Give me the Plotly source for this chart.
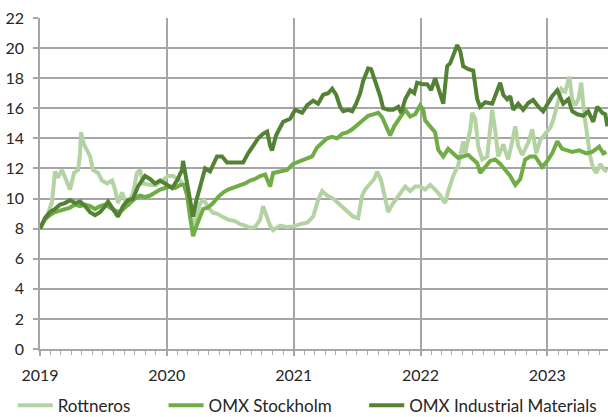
import pandas as pd
import plotly.graph_objects as go

# Time in decimal years
rott_t = [2019.000, 2019.032, 2019.063, 2019.095, 2019.118, 2019.142, 2019.174, 2019.205, 2019.237, 2019.268,
          2019.300, 2019.316, 2019.323, 2019.347, 2019.395, 2019.418, 2019.458, 2019.489, 2019.529, 2019.568,
          2019.592, 2019.615, 2019.647, 2019.671, 2019.694, 2019.734, 2019.765, 2019.789, 2019.813, 2019.868,
          2019.915, 2019.963, 2020.010, 2020.049, 2020.105, 2020.144, 2020.176, 2020.207, 2020.239, 2020.262,
          2020.294, 2020.326, 2020.365, 2020.396, 2020.436, 2020.483, 2020.538, 2020.578, 2020.617, 2020.657,
          2020.696, 2020.736, 2020.759, 2020.783, 2020.815, 2020.838, 2020.893, 2020.949, 2020.996, 2021.051,
          2021.107, 2021.154, 2021.193, 2021.225, 2021.264, 2021.312, 2021.367, 2021.422, 2021.469, 2021.509,
          2021.540, 2021.564, 2021.604, 2021.635, 2021.659, 2021.690, 2021.722, 2021.746, 2021.777, 2021.825,
          2021.880, 2021.919, 2021.959, 2021.998, 2022.037, 2022.077, 2022.116, 2022.156, 2022.195, 2022.219,
          2022.258, 2022.298, 2022.314, 2022.337, 2022.353, 2022.377, 2022.393, 2022.408, 2022.432, 2022.456,
          2022.487, 2022.527, 2022.566, 2022.590, 2022.613, 2022.653, 2022.692, 2022.724, 2022.748, 2022.771,
          2022.803, 2022.850, 2022.882, 2022.913, 2022.945, 2022.984, 2023.024, 2023.047, 2023.079, 2023.111,
          2023.142, 2023.174, 2023.197, 2023.221, 2023.245, 2023.268, 2023.292, 2023.316, 2023.339, 2023.363,
          2023.387, 2023.418, 2023.450, 2023.474]
rott_v = [8.0, 8.6, 9.0, 9.8, 11.8, 11.4, 11.9, 11.3, 10.6, 11.7,
          11.9, 13.0, 14.4, 13.6, 12.8, 11.9, 11.7, 11.2, 11.0, 11.2,
          10.6, 9.7, 10.4, 9.9, 9.5, 10.4, 11.7, 11.9, 11.0, 10.9,
          10.9, 11.2, 11.5, 11.5, 11.2, 10.8, 10.0, 7.9, 9.0, 9.7,
          9.9, 9.4, 9.05, 9.0, 8.8, 8.6, 8.5, 8.3, 8.2, 8.05,
          8.1, 8.6, 9.5, 8.9, 8.2, 7.9, 8.2, 8.1, 8.15, 8.3,
          8.4, 8.8, 9.9, 10.5, 10.2, 10.0, 9.6, 9.2, 8.8, 8.7,
          10.2, 10.6, 11.0, 11.3, 11.8, 11.2, 10.0, 9.1, 9.6, 10.2,
          10.8, 10.5, 10.8, 10.8, 10.6, 10.9, 10.6, 10.2, 9.7, 10.5,
          11.5, 12.2, 12.8, 13.8, 13.0, 13.9, 14.6, 15.7, 15.3, 13.45,
          12.6, 12.8, 15.9, 14.5, 12.8, 13.6, 12.6, 13.8, 14.8, 13.5,
          12.9, 13.7, 14.6, 13.0, 13.9, 14.3, 14.7, 15.2, 16.4, 17.3,
          17.1, 18.1, 16.6, 16.2, 16.6, 17.7, 15.6, 14.1, 12.8, 12.0,
          11.7, 12.3, 11.9, 11.8]

omx_t = [2019.000, 2019.039, 2019.079, 2019.118, 2019.158, 2019.197, 2019.237, 2019.276, 2019.316, 2019.355,
         2019.395, 2019.434, 2019.473, 2019.513, 2019.552, 2019.592, 2019.631, 2019.671, 2019.710, 2019.750,
         2019.789, 2019.828, 2019.868, 2019.907, 2019.947, 2019.986, 2020.026, 2020.065, 2020.105, 2020.136,
         2020.160, 2020.183, 2020.207, 2020.231, 2020.254, 2020.286, 2020.325, 2020.365, 2020.404, 2020.444,
         2020.483, 2020.523, 2020.578, 2020.617, 2020.657, 2020.696, 2020.736, 2020.775, 2020.815, 2020.838,
         2020.893, 2020.949, 2020.996, 2021.051, 2021.107, 2021.146, 2021.185, 2021.225, 2021.264, 2021.304,
         2021.343, 2021.383, 2021.422, 2021.462, 2021.501, 2021.548, 2021.588, 2021.627, 2021.667, 2021.698,
         2021.730, 2021.761, 2021.793, 2021.825, 2021.856, 2021.880, 2021.919, 2021.959, 2021.998, 2022.022,
         2022.037, 2022.077, 2022.116, 2022.140, 2022.180, 2022.219, 2022.258, 2022.298, 2022.337, 2022.377,
         2022.416, 2022.448, 2022.471, 2022.503, 2022.550, 2022.590, 2022.629, 2022.669, 2022.708, 2022.748,
         2022.787, 2022.826, 2022.866, 2022.905, 2022.960, 2023.000, 2023.039, 2023.079, 2023.118, 2023.158,
         2023.197, 2023.252, 2023.308, 2023.355, 2023.410, 2023.442, 2023.466]
omx_v = [8.0, 8.6, 8.9, 9.1, 9.2, 9.3, 9.4, 9.6, 9.5, 9.6,
         9.5, 9.3, 9.5, 9.6, 9.4, 9.2, 9.1, 9.4, 9.7, 10.0,
         10.2, 10.1, 10.2, 10.4, 10.6, 10.7, 10.8, 10.7, 10.9, 10.9,
         10.2, 8.8, 7.5, 8.1, 8.6, 9.3, 9.4, 9.7, 10.1, 10.4,
         10.6, 10.7, 10.9, 11.0, 11.2, 11.3, 11.5, 11.6, 10.8, 11.7,
         11.8, 11.9, 12.3, 12.5, 12.7, 12.8, 13.4, 13.7, 14.0, 14.1,
         14.0, 14.3, 14.4, 14.6, 14.9, 15.2, 15.5, 15.6, 15.7, 15.4,
         14.8, 14.2, 14.8, 15.2, 15.5, 15.9, 15.45, 15.6, 16.2, 15.9,
         15.2, 14.8, 14.4, 13.25, 12.8, 13.3, 13.0, 12.7, 12.8, 12.9,
         12.6, 12.35, 11.7, 12.0, 12.5, 12.6, 12.3, 11.9, 11.5, 10.9,
         11.3, 12.6, 12.8, 12.8, 12.1, 12.5, 13.0, 13.8, 13.3, 13.2,
         13.1, 13.2, 13.0, 13.1, 13.45, 13.0, 13.1]

ind_t = [2019.000, 2019.039, 2019.079, 2019.118, 2019.158, 2019.197, 2019.237, 2019.276, 2019.316, 2019.355,
         2019.395, 2019.434, 2019.473, 2019.505, 2019.537, 2019.576, 2019.615, 2019.655, 2019.694, 2019.734,
         2019.773, 2019.828, 2019.868, 2019.907, 2019.947, 2019.986, 2020.041, 2020.081, 2020.120, 2020.128,
         2020.152, 2020.183, 2020.207, 2020.231, 2020.262, 2020.302, 2020.341, 2020.365, 2020.396, 2020.436,
         2020.475, 2020.538, 2020.602, 2020.641, 2020.681, 2020.720, 2020.759, 2020.791, 2020.815, 2020.830,
         2020.862, 2020.917, 2020.973, 2021.012, 2021.067, 2021.107, 2021.154, 2021.193, 2021.233, 2021.272,
         2021.304, 2021.335, 2021.367, 2021.391, 2021.430, 2021.462, 2021.493, 2021.525, 2021.548, 2021.572,
         2021.588, 2021.611, 2021.635, 2021.659, 2021.683, 2021.706, 2021.746, 2021.785, 2021.825, 2021.848,
         2021.880, 2021.919, 2021.951, 2021.974, 2022.014, 2022.053, 2022.085, 2022.116, 2022.156, 2022.180,
         2022.211, 2022.235, 2022.258, 2022.290, 2022.314, 2022.337, 2022.377, 2022.416, 2022.448, 2022.471,
         2022.511, 2022.566, 2022.629, 2022.653, 2022.684, 2022.708, 2022.732, 2022.771, 2022.810, 2022.850,
         2022.889, 2022.929, 2022.968, 2023.008, 2023.039, 2023.079, 2023.103, 2023.126, 2023.166, 2023.197,
         2023.237, 2023.284, 2023.323, 2023.363, 2023.394, 2023.434, 2023.458, 2023.474]
ind_v = [8.0, 8.7, 9.1, 9.3, 9.6, 9.7, 9.9, 9.7, 9.8, 9.5,
         9.1, 8.9, 9.1, 9.4, 9.8, 9.3, 8.8, 9.5, 9.9, 10.0,
         10.8, 11.5, 11.3, 11.0, 11.2, 11.0, 10.7, 11.2, 11.9, 12.5,
         11.4, 10.1, 8.8, 9.8, 10.8, 12.0, 11.8, 12.2, 12.8, 12.8,
         12.4, 12.4, 12.4, 13.0, 13.5, 14.0, 14.3, 14.45, 13.5, 13.2,
         14.2, 15.1, 15.3, 15.9, 15.7, 16.2, 16.5, 16.3, 16.9, 17.0,
         17.3, 16.9, 16.1, 15.8, 15.9, 15.8, 16.3, 17.0, 17.8, 18.4,
         18.65, 18.6, 18.0, 17.4, 16.8, 16.0, 15.9, 15.9, 16.1, 15.7,
         16.6, 17.2, 17.0, 17.7, 17.6, 17.6, 17.2, 18.0, 17.0, 16.3,
         18.8, 19.0, 19.5, 20.2, 19.8, 18.8, 18.6, 18.5, 16.6, 16.1,
         16.4, 16.3, 17.7, 16.9, 16.6, 16.8, 15.9, 16.3, 15.9, 16.35,
         16.55, 16.1, 15.8, 16.4, 16.8, 17.2, 16.8, 16.3, 16.6, 15.8,
         15.6, 15.5, 15.8, 15.1, 16.1, 15.7, 15.6, 14.8]

series_names = ["Rottneros", "OMX Stockholm", "OMX Industrial Materials"]
series_colors = ["#B4D3A3", "#70AD47", "#548235"]
year_ticks = ["2019", "2020", "2021", "2022", "2023"]


def to_dates(years):
    base = pd.Timestamp("2019-01-01")
    return [base + pd.to_timedelta((y - 2019.0) * 365.25, unit="D") for y in years]


legend_ids = ["legend", "legend2", "legend3"]
legend_x = [0.021, 0.269, 0.599]

fig = go.Figure()
for name, t, v, c, lg in zip(series_names, [rott_t, omx_t, ind_t], [rott_v, omx_v, ind_v],
                             series_colors, legend_ids):
    fig.add_trace(go.Scatter(x=to_dates(t), y=v, name=name, mode="lines",
                             line=dict(color=c, width=4), legend=lg))

grid = "#A6A6A6"
font_family = "Lato, 'Open Sans', sans-serif"
legend_common = dict(orientation="h", xref="container", xanchor="left",
                     yref="container", y=0.027, yanchor="middle",
                     font=dict(size=17, color="#262626", family=font_family),
                     itemwidth=35, bgcolor="rgba(0,0,0,0)", borderwidth=0)
fig.update_layout(
    width=608, height=417,
    margin=dict(l=40, r=0, t=18, b=68, autoexpand=False),
    paper_bgcolor="white", plot_bgcolor="white",
    font=dict(family=font_family, size=16, color="#262626"),
    showlegend=True,
    legend=dict(x=legend_x[0], **legend_common),
    legend2=dict(x=legend_x[1], **legend_common),
    legend3=dict(x=legend_x[2], **legend_common),
)
fig.update_xaxes(
    type="date", automargin=False,
    range=[pd.Timestamp("2019-01-01"), pd.Timestamp("2023-06-25")],
    tickvals=[pd.Timestamp(y + "-01-01") for y in year_ticks],
    ticktext=year_ticks,
    showgrid=True, gridcolor=grid, gridwidth=1.5,
    showline=True, linecolor=grid, linewidth=1.5,
    ticks="outside", ticklen=5, tickcolor=grid, tickwidth=1.5,
    ticklabelstandoff=6,
    minor=dict(dtick="M1", tick0="2019-01-01", ticks="outside", ticklen=4,
               tickcolor=grid, tickwidth=1, showgrid=False),
    zeroline=False,
)
fig.update_yaxes(
    range=[0, 22], dtick=2, tick0=0, automargin=False,
    showgrid=True, gridcolor=grid, gridwidth=1.5,
    showline=True, linecolor=grid, linewidth=1.5,
    ticks="outside", ticklen=5, tickcolor=grid, tickwidth=1.5,
    ticklabelstandoff=6,
    zeroline=False,
)

fig.write_html("out.html", config={"displayModeBar": False},
               post_script="document.body.style.margin='0';")
